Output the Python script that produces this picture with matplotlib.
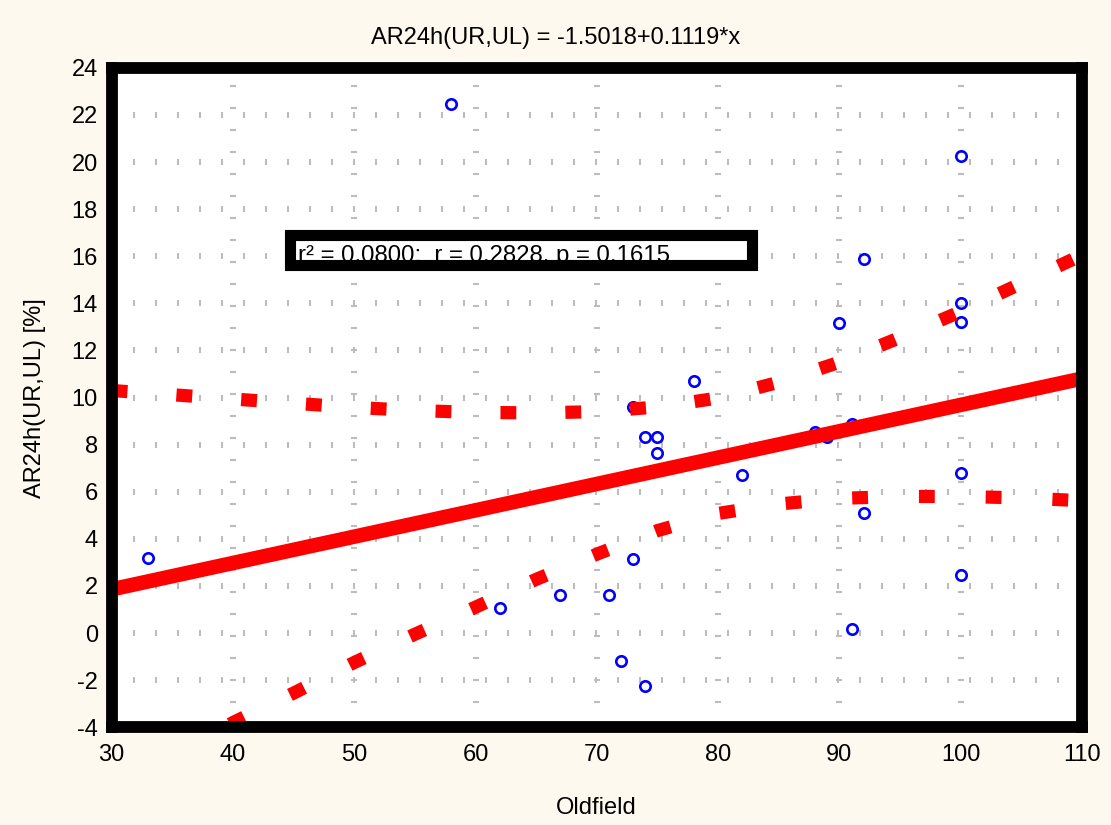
import numpy as np
import matplotlib
matplotlib.use("Agg")
import matplotlib.pyplot as plt
from matplotlib.patches import Rectangle

plt.rcParams['font.family'] = ['Liberation Sans', 'DejaVu Sans']
plt.rcParams['axes.unicode_minus'] = False

# data
oldfield = [33, 58, 62, 67, 71, 72, 73, 73, 74, 74, 75, 75, 78, 82,
            88, 89, 91, 91, 90, 92, 92, 100, 100, 100, 100, 100]
ar24h = [3.2, 22.45, 1.08, 1.62, 1.62, -1.18, 3.15, 9.6, 8.33, -2.23, 8.33, 7.65, 10.7, 6.71,
         8.55, 8.31, 8.87, 0.16, 13.17, 15.89, 5.09, 20.26, 14.02, 13.21, 6.79, 2.47]

intercept = -1.5018
slope = 0.1119

band_x = [30, 35, 40, 45, 50, 55, 60, 65, 70, 75, 80, 85, 90, 95, 100, 105, 110]
band_upper = [10.3, 10.12, 9.94, 9.76, 9.58, 9.45, 9.37, 9.35, 9.4, 9.6, 9.98,
              10.65, 11.5, 12.55, 13.65, 14.85, 16.05]
band_lower = [-6.5, -5.2, -3.8, -2.55, -1.25, -0.05, 1.1, 2.28, 3.35, 4.35, 5.08,
              5.48, 5.72, 5.8, 5.8, 5.74, 5.62]

title = "AR24h(UR,UL) = -1.5018+0.1119*x"
stats_text = "r² = 0.0800;  r = 0.2828, p = 0.1615"
xlabel = "Oldfield"
ylabel = "AR24h(UR,UL) [%]"

bg = "#fef9ee"
fig = plt.figure(figsize=(11.11, 8.25), dpi=100, facecolor=bg)
ax = fig.add_axes([0.1005, 0.1185, 0.8734, 0.7992])
ax.set_facecolor("white")

ax.set_xlim(30, 110)
ax.set_ylim(-4, 24)
ax.set_xticks(range(30, 111, 10))
ax.set_yticks(range(-4, 25, 2))
ax.tick_params(length=0, labelsize=17, pad=10)
ax.tick_params(axis='x', pad=12)
for s in ax.spines.values():
    s.set_linewidth(8.5)
    s.set_color("black")
    s.set_zorder(10)

# grid drawn as little tick marks like the original
gx = np.arange(31.86, 110, 1.814)
for yv in range(-2, 24, 2):
    ax.plot(gx, np.full_like(gx, yv), ls='none', marker='|', ms=4.5, mew=1.5,
            color='#bdbdbd', zorder=1)
gy = np.arange(23.23, -4, -0.934)
for xv in range(40, 110, 10):
    ax.plot(np.full_like(gy, xv), gy, ls='none', marker='_', ms=5, mew=1.5,
            color='#bdbdbd', zorder=1)

ax.plot(oldfield, ar24h, ls='none', marker='o', ms=7.5, mew=1.9,
        mfc='none', mec='blue', zorder=3)

ax.plot(band_x, band_upper, color='red', lw=9.5, dashes=(1.2, 3.72),
        dash_capstyle='butt', zorder=4)
ax.plot(band_x, band_lower, color='red', lw=9.5, dashes=(1.2, 3.86),
        dash_capstyle='butt', zorder=4)

lx = np.array([30, 110])
ax.plot(lx, intercept + slope * lx, color='red', lw=10.5, solid_capstyle='butt', zorder=5)

# stats box
ax.add_patch(Rectangle((0.1838, 0.701), 0.4762, 0.0456, transform=ax.transAxes,
                       fc='white', ec='none', zorder=6))
ax.text(0.192, 0.7056, stats_text, transform=ax.transAxes, fontsize=17.3,
        va='baseline', ha='left', zorder=7)
ax.add_patch(Rectangle((0.1838, 0.701), 0.4762, 0.0456, transform=ax.transAxes,
                       fill=False, ec='black', lw=8, zorder=8))

fig.text(0.5, 0.9545, title, ha='center', va='center', fontsize=17)
fig.text(596 / 1111, 1 - 808 / 825, xlabel, ha='center', va='center', fontsize=17)
fig.text(35 / 1111, 1 - 398 / 825, ylabel, ha='center', va='center', rotation=90, fontsize=17)

fig.savefig("out.png", dpi=100, facecolor=bg)
